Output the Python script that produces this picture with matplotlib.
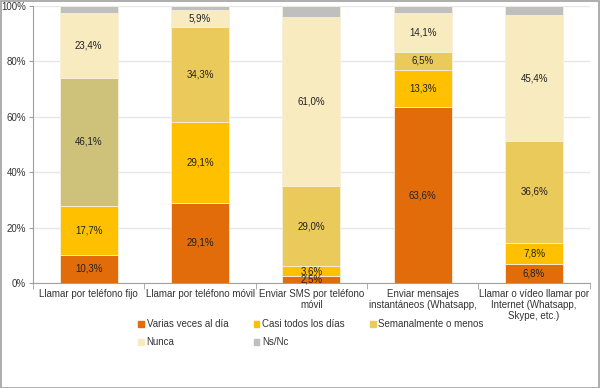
import matplotlib
matplotlib.use("Agg")
import matplotlib.pyplot as plt
from matplotlib.patches import Rectangle
import numpy as np

plt.rcParams['font.family'] = ['Liberation Sans', 'DejaVu Sans']

categories = ["Llamar por teléfono fijo", "Llamar por teléfono móvil",
              "Enviar SMS por teléfono\nmóvil", "Enviar mensajes\ninstantáneos (Whatsapp,",
              "Llamar o vídeo llamar por\nInternet (Whatsapp,\nSkype, etc.)"]
series_names = ["Varias veces al día", "Casi todos los días", "Semanalmente o menos", "Nunca", "Ns/Nc"]
varias = [10.3, 29.1, 2.5, 63.6, 6.8]
casi = [17.7, 29.1, 3.6, 13.3, 7.8]
semanal = [46.1, 34.3, 29.0, 6.5, 36.6]
nunca = [23.4, 5.9, 61.0, 14.1, 45.4]
nsnc = [2.5, 1.6, 3.9, 2.5, 3.4]

colors = ["#E36C0A", "#FFC000", "#EACA5A", "#F8EBC0", "#BFBFBF"]
olive = "#CEC27A"
txtcol = "#333333"
fs = 7

fig = plt.figure(figsize=(6, 3.88), dpi=100)
ax = fig.add_axes([0.055, 0.27, 0.928, 0.715])

x = np.arange(len(categories))
data = [varias, casi, semanal, nunca, nsnc]
bottom = np.zeros(len(categories))
handles = []
for i, (vals, name, col) in enumerate(zip(data, series_names, colors)):
    cols = [col] * len(categories)
    if i == 2:
        cols[0] = olive
    ax.bar(x, vals, width=0.52, bottom=bottom, color=cols, edgecolor="#F5F0DC",
           linewidth=0.6, label=name, zorder=3)
    if i < 4:
        for xi, v, b in zip(x, vals, bottom):
            ax.text(xi, b + v / 2, f"{v:.1f}%".replace(".", ","), ha="center", va="center",
                    fontsize=fs, color="#222222", zorder=4)
    bottom += np.array(vals)
    handles.append(Rectangle((0, 0), 1, 1, color=col))

ax.set_xlim(-0.5, len(categories) - 0.5)
ax.set_ylim(0, 100)
ax.set_yticks(np.arange(0, 101, 20))
ax.set_yticklabels([f"{v}%" for v in range(0, 101, 20)], fontsize=fs, color=txtcol)
ax.yaxis.grid(True, color="#E6E6E6", linewidth=1, zorder=0)
ax.set_xticks(x)
ax.set_xticklabels(categories, fontsize=fs, va="top", linespacing=1.15, color=txtcol)
ax.set_xticks(np.arange(-0.5, len(categories)), minor=True)
ax.tick_params(axis="x", which="major", length=0, pad=4)
ax.tick_params(axis="x", which="minor", length=4, color="#A0A0A0")
ax.tick_params(axis="y", length=3, color="#A0A0A0", pad=2)
for s in ["top", "right"]:
    ax.spines[s].set_visible(False)
for s in ["left", "bottom"]:
    ax.spines[s].set_color("#A0A0A0")

order = [0, 3, 1, 4, 2]
fig.legend([handles[i] for i in order], [series_names[i] for i in order],
           loc="upper left", bbox_to_anchor=(0.216, 0.2), ncol=3, frameon=False,
           fontsize=fs, handlelength=0.6, handleheight=0.6, handletextpad=0.25,
           columnspacing=2.6, labelspacing=0.85, labelcolor=txtcol)

fig.patches.append(Rectangle((0.001, 0.001), 0.997, 0.997, transform=fig.transFigure,
                             fill=False, edgecolor="#A0A0A0", linewidth=1.2))
fig.savefig("out.png", dpi=100)
